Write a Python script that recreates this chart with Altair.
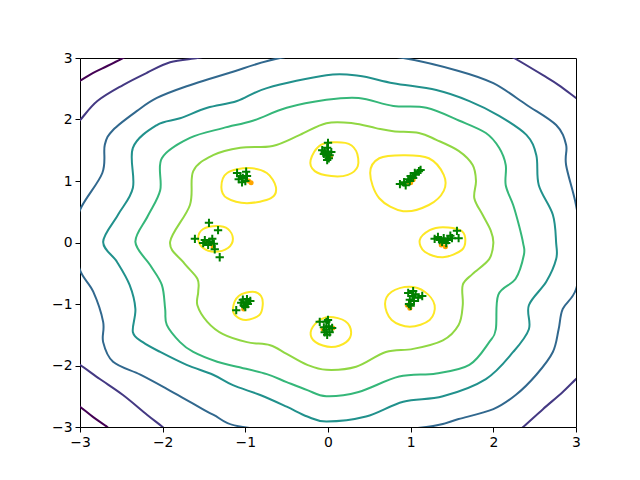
import altair as alt
import pandas as pd

# ---------------- contour levels (outer -> inner), viridis colours ----------------
level_names = ["L0", "L1", "L2", "L3", "L4", "L5", "L6"]
level_colors = ["#440154", "#443983", "#31688e", "#21918c", "#35b779", "#90d743", "#fde725"]

# closed contours
yg_x = [-0.02, 0.30, 0.58, 0.79, 1.10, 1.31, 1.58, 1.75, 1.79, 1.77, 1.87, 1.97, 2.00, 1.95, 1.75, 1.63, 1.63, 1.58, 1.39, 1.03, 0.70, 0.34,
        -0.02, -0.25, -0.50, -0.70, -0.98, -1.27, -1.46, -1.58, -1.57, -1.58, -1.75, -1.91, -1.67, -1.63, -1.39, -1.06, -0.67, -0.34]
yg_y = [1.94, 1.94, 1.86, 1.81, 1.78, 1.67, 1.49, 1.26, 1.00, 0.72, 0.45, 0.19, -0.01, -0.27, -0.51, -0.69, -1.02, -1.34, -1.59, -1.73, -1.78, -2.02,
        -2.07, -1.99, -1.81, -1.67, -1.62, -1.49, -1.29, -1.02, -0.80, -0.59, -0.32, 0.01, 0.61, 1.16, 1.42, 1.54, 1.57, 1.75]

grn_x = [-0.02, 0.37, 0.79, 1.19, 1.59, 1.91, 2.07, 2.15, 2.15, 2.24, 2.31, 2.36, 2.37, 2.27, 2.06, 2.03, 1.95, 1.71, 1.31, 0.86, 0.37,
         -0.02, -0.25, -0.50, -0.74, -1.10, -1.34, -1.63, -1.79, -1.95, -1.97, -2.01, -2.15, -2.33, -2.18, -2.03, -2.01, -1.67, -1.27, -0.91, -0.50]
grn_y = [2.32, 2.35, 2.22, 2.19, 1.98, 1.78, 1.54, 1.26, 0.93, 0.61, 0.28, -0.01, -0.20, -0.59, -0.85, -1.41, -1.62, -1.99, -2.13, -2.18, -2.43,
         -2.50, -2.40, -2.27, -2.14, -2.02, -1.94, -1.78, -1.62, -1.34, -1.08, -0.69, -0.37, 0.01, 0.43, 0.85, 1.37, 1.70, 1.86, 1.98, 2.19]

teal_x = [-0.02, 0.37, 0.79, 1.31, 1.71, 2.07, 2.40, 2.52, 2.55, 2.72, 2.76, 2.76, 2.64, 2.43, 2.43, 2.24, 1.91, 1.39, 0.91, 0.46,
          -0.02, -0.25, -0.50, -0.82, -1.15, -1.39, -1.71, -2.03, -2.24, -2.36, -2.33, -2.40, -2.55, -2.72, -2.54, -2.36, -2.36, -2.07, -1.79, -1.46, -1.10, -0.74]
teal_y = [2.72, 2.71, 2.59, 2.48, 2.30, 2.06, 1.75, 1.42, 0.93, 0.45, -0.01, -0.27, -0.64, -1.02, -1.41, -1.78, -2.22, -2.50, -2.59, -2.83,
          -2.91, -2.83, -2.67, -2.48, -2.32, -2.15, -1.99, -1.78, -1.62, -1.46, -1.08, -0.69, -0.32, 0.01, 0.45, 0.89, 1.54, 1.91, 2.02, 2.19, 2.30, 2.51]

blue_x = [0.15, 0.91, 1.58, 2.00, 2.40, 2.76, 2.88, 2.88, 3.00, 3.07, 3.00, 2.84, 2.79, 2.72, 2.52, 2.27, 2.00, 1.58, 1.19, 0.08,
          -1.03, -1.39, -1.67, -1.95, -2.27, -2.60, -2.72, -2.72, -2.84, -3.00, -3.06, -3.00, -2.73, -2.70, -2.60, -2.31, -2.07, -1.71, -1.19, -0.58]
blue_y = [3.10, 3.00, 2.79, 2.59, 2.24, 1.91, 1.59, 1.26, 0.61, -0.07, -0.76, -1.08, -1.41, -1.78, -2.15, -2.48, -2.71, -2.87, -3.00, -3.11,
          -3.00, -2.80, -2.59, -2.38, -2.15, -1.94, -1.62, -1.29, -0.80, -0.45, 0.04, 0.53, 1.13, 1.59, 1.83, 2.14, 2.35, 2.54, 2.76, 3.00]

# small yellow contours around each cluster
yellow_rings = [
    ([-0.08, 0.21, 0.34, 0.36, 0.24, 0.04, -0.16, -0.21], [1.59, 1.62, 1.49, 1.24, 1.10, 1.08, 1.16, 1.34]),
    ([0.51, 0.62, 0.91, 1.22, 1.40, 1.40, 1.22, 0.91, 0.62], [1.13, 1.37, 1.42, 1.37, 1.10, 0.84, 0.61, 0.51, 0.72]),
    ([1.11, 1.23, 1.39, 1.60, 1.66, 1.62, 1.39, 1.17], [0.04, 0.20, 0.25, 0.20, 0.07, -0.12, -0.24, -0.15]),
    ([0.69, 0.77, 0.98, 1.17, 1.29, 1.23, 0.99, 0.77], [-1.00, -0.80, -0.72, -0.80, -1.02, -1.26, -1.37, -1.26]),
    ([-0.21, -0.12, 0.02, 0.21, 0.28, 0.22, 0.04, -0.15], [-1.46, -1.28, -1.21, -1.28, -1.46, -1.62, -1.70, -1.62]),
    ([-1.15, -1.08, -0.91, -0.81, -0.79, -0.83, -0.99, -1.11], [-1.07, -0.87, -0.80, -0.87, -1.02, -1.18, -1.26, -1.20]),
    ([-1.57, -1.51, -1.34, -1.21, -1.15, -1.21, -1.37, -1.51], [0.07, 0.22, 0.27, 0.22, 0.06, -0.09, -0.15, -0.09]),
    ([-1.29, -1.22, -0.96, -0.74, -0.63, -0.69, -0.98, -1.22], [0.90, 1.13, 1.21, 1.13, 0.90, 0.72, 0.64, 0.72]),
]

# open contours in the corners: (level, xs, ys)
open_contours = [
    ("L1", [-3.10, -3.00, -2.79, -2.48, -2.19, -1.91, -1.58, -1.40], [1.87, 1.99, 2.30, 2.56, 2.76, 2.93, 3.00, 3.05]),
    ("L1", [2.10, 2.25, 2.60, 2.79, 3.00, 3.10], [3.10, 3.00, 2.72, 2.56, 2.35, 2.25]),
    ("L1", [2.25, 2.36, 2.60, 2.84, 3.00, 3.10], [-3.12, -3.00, -2.71, -2.43, -2.22, -2.10]),
    ("L1", [-3.10, -3.00, -2.76, -2.48, -2.19, -2.00, -1.90], [-1.92, -1.99, -2.22, -2.48, -2.80, -3.00, -3.12]),
    ("L0", [-3.10, -3.00, -2.84, -2.67, -2.48, -2.38], [2.55, 2.63, 2.76, 2.87, 3.00, 3.08]),
    ("L0", [-3.10, -3.00, -2.84, -2.67, -2.58], [-2.58, -2.67, -2.84, -3.00, -3.10]),
]

# ---------------- sample points ----------------
plus_x = [0.00, -0.07, -0.04, -0.01, 0.02, 0.01, -0.02, 0.04, -0.05, 0.00, -0.01,
          0.87, 0.94, 0.99, 1.03, 1.06, 1.10, 0.92, 0.97, 1.00, 1.05, 1.12,
          1.29, 1.35, 1.40, 1.45, 1.50, 1.56, 1.58, 1.43, 1.38, 1.48, 1.33,
          0.97, 1.02, 1.06, 1.14, 0.99, 1.04, 0.98, 1.03, 1.09, 1.00,
          -0.10, -0.02, 0.01, -0.02, 0.02, -0.01, -0.05, 0.05, 0.00, -0.04,
          -1.11, -1.03, -0.99, -0.97, -1.02, -1.05, -0.98, -0.94, -1.00,
          -1.44, -1.33, -1.61, -1.31, -1.49, -1.43, -1.40, -1.45, -1.38, -1.51, -1.37,
          -1.10, -0.99, -1.06, -1.03, -1.00, -1.04, -1.08, -0.98]
plus_y = [1.62, 1.50, 1.47, 1.54, 1.42, 1.37, 1.41, 1.47, 1.44, 1.48, 1.34,
          0.95, 0.93, 1.00, 1.05, 1.10, 1.16, 0.98, 1.03, 1.08, 1.13, 1.18,
          0.06, 0.04, 0.07, 0.04, 0.07, 0.19, 0.07, -0.01, 0.01, 0.11, 0.09,
          -0.82, -0.87, -0.84, -0.87, -0.93, -0.95, -1.00, -0.79, -0.90, -1.03,
          -1.29, -1.29, -1.36, -1.42, -1.46, -1.50, -1.38, -1.39, -1.26, -1.46,
          -1.10, -0.93, -0.97, -1.00, -1.02, -0.98, -0.92, -0.95, -1.05,
          0.32, 0.20, 0.06, -0.24, 0.04, 0.01, 0.06, -0.04, -0.02, -0.01, -0.11,
          1.13, 1.15, 1.08, 1.05, 1.00, 0.98, 1.03, 1.08]

dot_x = [0.03, 0.00, 0.98, 1.03, 1.00, 1.42, 1.37, 0.96, 0.99, -0.06, 0.06, -1.02, -1.39, -1.47, -0.96, -0.93]
dot_y = [1.40, 1.45, 0.98, 1.02, 0.97, -0.07, -0.04, -1.02, -1.07, -1.41, -1.39, -1.08, -0.07, -0.01, 1.00, 0.97]

# ---------------- build tables ----------------
closed_rows = []
def add_rows(rows, level, gid, xs, ys):
    for i, (a, b) in enumerate(zip(xs, ys)):
        rows.append({"level": level, "g": gid, "i": i, "x": a, "y": b})

add_rows(closed_rows, "L2", "blue", blue_x, blue_y)
add_rows(closed_rows, "L3", "teal", teal_x, teal_y)
add_rows(closed_rows, "L4", "green", grn_x, grn_y)
add_rows(closed_rows, "L5", "yg", yg_x, yg_y)
for k, (xs, ys) in enumerate(yellow_rings):
    add_rows(closed_rows, "L6", f"y{k}", xs, ys)

open_rows = []
for k, (lev, xs, ys) in enumerate(open_contours):
    add_rows(open_rows, lev, f"o{k}", xs, ys)

closed_df = pd.DataFrame(closed_rows)
open_df = pd.DataFrame(open_rows)
plus_df = pd.DataFrame({"x": plus_x, "y": plus_y})
dot_df = pd.DataFrame({"x": dot_x, "y": dot_y})

axis_common = dict(values=[-3, -2, -1, 0, 1, 2, 3], grid=False, domain=False, tickColor="black",
                   tickSize=5, tickWidth=1, labelColor="black", labelFont="DejaVu Sans",
                   labelFontSize=13.9, labelPadding=3, labelFlush=False, title=None)
xs = alt.Scale(domain=[-3, 3], nice=False, zero=False)
ys = alt.Scale(domain=[-3, 3], nice=False, zero=False)
X = alt.X("x:Q", scale=xs, axis=alt.Axis(**axis_common))
Y = alt.Y("y:Q", scale=ys, axis=alt.Axis(**axis_common))
color = alt.Color("level:N", scale=alt.Scale(domain=level_names, range=level_colors), legend=None)

closed_layer = alt.Chart(closed_df).mark_line(interpolate="cardinal-closed", strokeWidth=2, clip=True).encode(
    x=X, y=Y, color=color, detail="g:N", order="i:Q")
open_layer = alt.Chart(open_df).mark_line(interpolate="cardinal", strokeWidth=2, clip=True).encode(
    x=X, y=Y, color=color, detail="g:N", order="i:Q")
dot_layer = alt.Chart(dot_df).mark_point(filled=True, shape="circle", size=25, color="orange", opacity=1).encode(x=X, y=Y)
plus_layer = alt.Chart(plus_df).mark_point(shape="M -1 0 L 1 0 M 0 -1 L 0 1", filled=False, size=69,
                                           strokeWidth=2, color="green", opacity=1).encode(x=X, y=Y)

chart = alt.layer(closed_layer, open_layer, dot_layer, plus_layer).properties(
    width=496, height=369,
    autosize=alt.AutoSizeParams(type="none"),
    padding={"left": 72, "top": 50, "right": 56, "bottom": 45},
).configure_view(stroke="black", strokeWidth=1)

chart.save("out.html", embed_options={"renderer": "svg", "actions": False})
